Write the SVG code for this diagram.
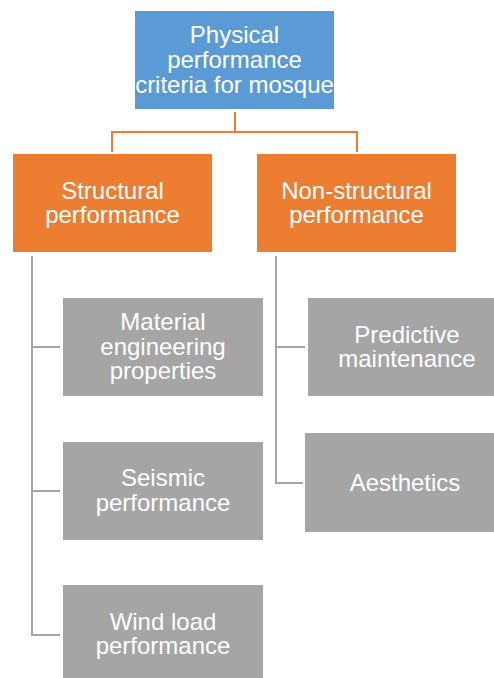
<svg xmlns="http://www.w3.org/2000/svg" width="494" height="678" viewBox="0 0 494 678">
  <style>
    .lbl { font-family: "Liberation Sans", Arial, sans-serif; font-size: 24px; fill: #ffffff; text-anchor: middle; }
    .root { fill: #5B9BD5; }
    .mid { fill: #ED7D31; }
    .leaf { fill: #A5A5A5; }
    .edge-o { fill: none; stroke: #ED7D31; stroke-width: 2; }
    .edge-g { fill: none; stroke: #A5A5A5; stroke-width: 2; }
  </style>
  <rect width="494" height="678" fill="#ffffff"/>

  <g id="connectors">
    <path class="edge-o" d="M235,112 V132 M112,152 V132 H357 V152"/>
    <path class="edge-g" d="M32,256 V635 H60 M32,347 H60 M32,491 H60"/>
    <path class="edge-g" d="M276,256 V483 H303 M276,347 H305"/>
  </g>

  <g id="root">
    <rect class="root" x="135" y="11" width="199" height="98"/>
    <text class="lbl" x="234.5" y="43">Physical</text>
    <text class="lbl" x="234.5" y="68">performance</text>
    <text class="lbl" x="234.5" y="93">criteria for mosque</text>
  </g>

  <g id="structural">
    <rect class="mid" x="13" y="154" width="199" height="98"/>
    <text class="lbl" x="112.5" y="199">Structural</text>
    <text class="lbl" x="112.5" y="223">performance</text>
  </g>

  <g id="non-structural">
    <rect class="mid" x="257" y="154" width="199" height="98"/>
    <text class="lbl" x="356.5" y="199">Non-structural</text>
    <text class="lbl" x="356.5" y="223">performance</text>
  </g>

  <g id="material">
    <rect class="leaf" x="63" y="298" width="200" height="98"/>
    <text class="lbl" x="163" y="330">Material</text>
    <text class="lbl" x="163" y="355">engineering</text>
    <text class="lbl" x="163" y="379">properties</text>
  </g>

  <g id="seismic">
    <rect class="leaf" x="63" y="442" width="200" height="98"/>
    <text class="lbl" x="163" y="486">Seismic</text>
    <text class="lbl" x="163" y="511">performance</text>
  </g>

  <g id="wind">
    <rect class="leaf" x="63" y="585" width="200" height="98"/>
    <text class="lbl" x="163" y="630">Wind load</text>
    <text class="lbl" x="163" y="654">performance</text>
  </g>

  <g id="predictive">
    <rect class="leaf" x="308" y="298" width="200" height="98"/>
    <text class="lbl" x="407" y="343">Predictive</text>
    <text class="lbl" x="407" y="367">maintenance</text>
  </g>

  <g id="aesthetics">
    <rect class="leaf" x="305" y="433" width="200" height="99"/>
    <text class="lbl" x="405" y="491">Aesthetics</text>
  </g>
</svg>
